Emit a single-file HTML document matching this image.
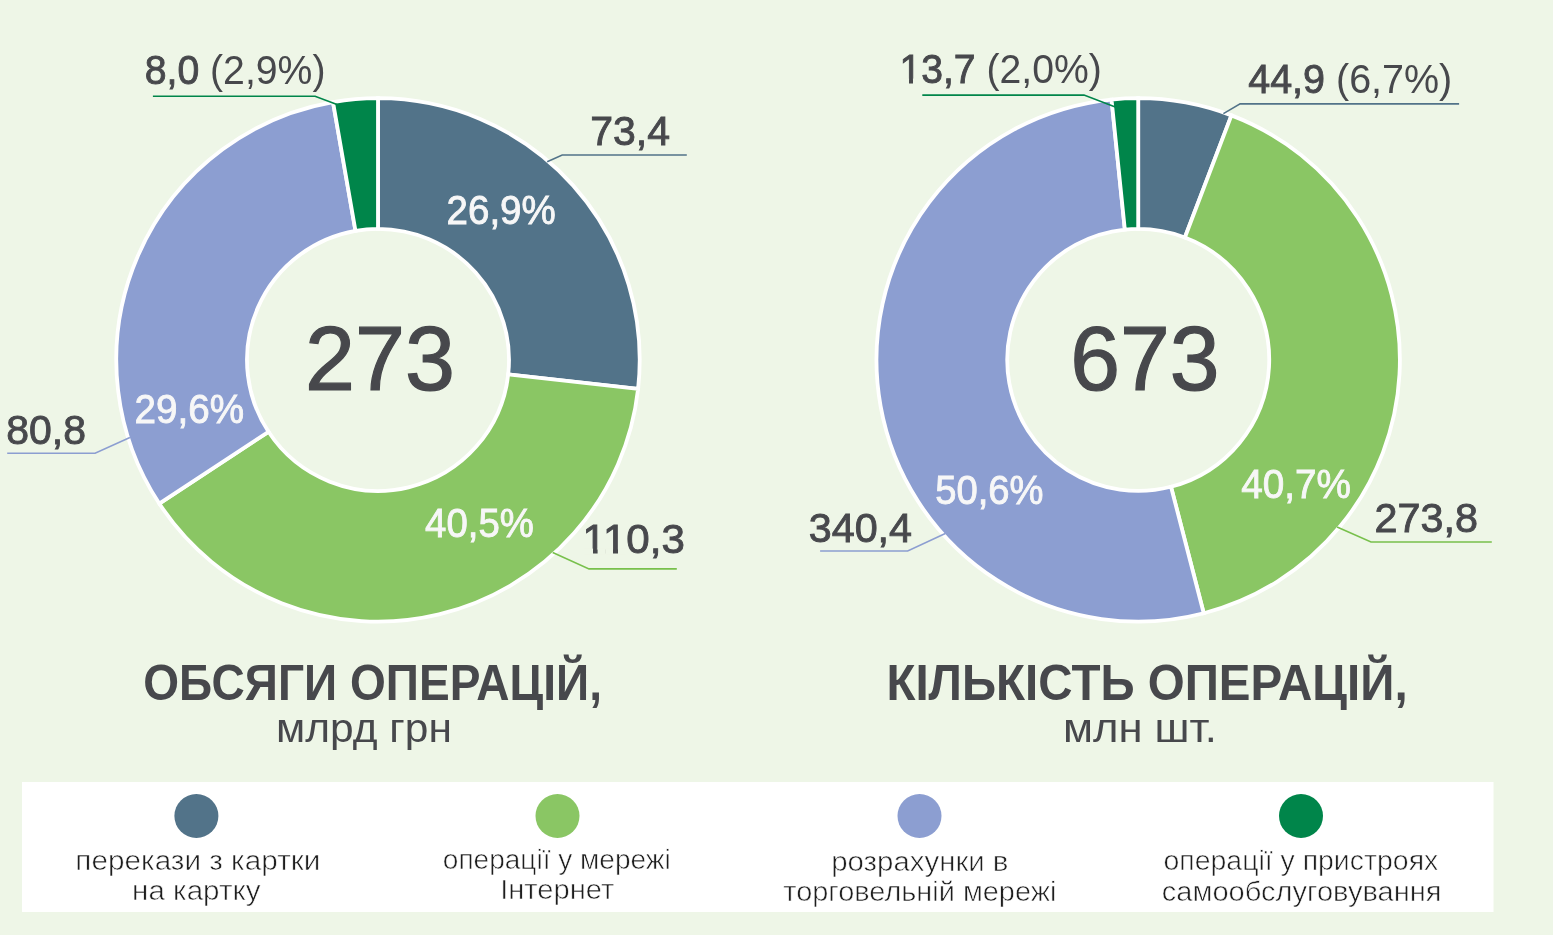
<!DOCTYPE html>
<html><head><meta charset="utf-8"><style>
html,body{margin:0;padding:0;width:1553px;height:935px;overflow:hidden;background:#EEF6E7;font-family:"Liberation Sans",sans-serif}
svg text{font-family:"Liberation Sans",sans-serif}
</style></head><body>
<svg width="1553" height="935" viewBox="0 0 1553 935" style="position:absolute;left:0;top:0;will-change:transform"><rect x="0" y="0" width="1553" height="935" fill="#EEF6E7"/><rect x="22" y="782" width="1471.5" height="130" fill="#fff"/><path d="M378.00,98.20 A261.7,261.7 0 0 1 638.09,388.84 L508.20,374.39 A131.0,131.0 0 0 0 378.00,228.90 Z" fill="#527389" stroke="#fff" stroke-width="3.8" stroke-linejoin="miter"/><path d="M638.09,388.84 A261.7,261.7 0 0 1 159.27,503.58 L268.51,431.82 A131.0,131.0 0 0 0 508.20,374.39 Z" fill="#8AC664" stroke="#fff" stroke-width="3.8" stroke-linejoin="miter"/><path d="M159.27,503.58 A261.7,261.7 0 0 1 333.01,102.10 L355.48,230.85 A131.0,131.0 0 0 0 268.51,431.82 Z" fill="#8C9ED1" stroke="#fff" stroke-width="3.8" stroke-linejoin="miter"/><path d="M333.01,102.10 A261.7,261.7 0 0 1 378.00,98.20 L378.00,228.90 A131.0,131.0 0 0 0 355.48,230.85 Z" fill="#00854A" stroke="#fff" stroke-width="3.8" stroke-linejoin="miter"/><path d="M1138.20,98.20 A261.7,261.7 0 0 1 1231.43,115.37 L1184.87,237.49 A131.0,131.0 0 0 0 1138.20,228.90 Z" fill="#527389" stroke="#fff" stroke-width="3.8" stroke-linejoin="miter"/><path d="M1231.43,115.37 A261.7,261.7 0 0 1 1203.72,613.26 L1171.00,486.73 A131.0,131.0 0 0 0 1184.87,237.49 Z" fill="#8AC664" stroke="#fff" stroke-width="3.8" stroke-linejoin="miter"/><path d="M1203.72,613.26 A261.7,261.7 0 1 1 1111.53,99.56 L1124.85,229.58 A131.0,131.0 0 1 0 1171.00,486.73 Z" fill="#8C9ED1" stroke="#fff" stroke-width="3.8" stroke-linejoin="miter"/><path d="M1111.53,99.56 A261.7,261.7 0 0 1 1138.20,98.20 L1138.20,228.90 A131.0,131.0 0 0 0 1124.85,229.58 Z" fill="#00854A" stroke="#fff" stroke-width="3.8" stroke-linejoin="miter"/><polyline points="152.9,96.3 315.1,96.3 337,104.5" fill="none" stroke="#00854A" stroke-width="1.6"/><polyline points="547.2,161.7 562.2,155 686.8,155" fill="none" stroke="#527389" stroke-width="1.6"/><polyline points="7.2,453.2 95.1,453.2 129.9,437.5" fill="none" stroke="#8C9ED1" stroke-width="1.6"/><polyline points="552.7,552.5 589,568.9000000000001 676.8,568.9000000000001" fill="none" stroke="#78C04C" stroke-width="1.6"/><polyline points="922.3,95.1 1084,95.1 1116.6,107.4" fill="none" stroke="#00854A" stroke-width="1.6"/><polyline points="1223.4,113.6 1240.1,103.9 1459.1,103.9" fill="none" stroke="#527389" stroke-width="1.6"/><polyline points="820.1,551 907.7,551 945.3,533.5" fill="none" stroke="#8C9ED1" stroke-width="1.6"/><polyline points="1337.1,526.9000000000001 1371,542.0 1491.8,542.0" fill="none" stroke="#78C04C" stroke-width="1.6"/><circle cx="196.4" cy="816" r="22" fill="#527389"/><circle cx="557.5" cy="816" r="22" fill="#8AC664"/><circle cx="919.5" cy="816" r="22" fill="#8C9ED1"/><circle cx="1301" cy="816" r="22" fill="#00854A"/><text x="144.74" y="83.70" font-family="Liberation Sans" font-size="41.39" fill="#47484C" textLength="180.74" lengthAdjust="spacingAndGlyphs" xml:space="preserve"><tspan font-weight="normal" stroke="#47484C" stroke-width="0.9" paint-order="stroke">8,0 </tspan><tspan font-weight="normal">(2,9%)</tspan></text><text x="590.15" y="144.60" font-family="Liberation Sans" font-size="41.39" font-weight="normal" fill="#47484C" stroke="#47484C" stroke-width="0.9" paint-order="stroke" textLength="79.80" lengthAdjust="spacingAndGlyphs" xml:space="preserve">73,4</text><text x="6.31" y="444.10" font-family="Liberation Sans" font-size="41.39" font-weight="normal" fill="#47484C" stroke="#47484C" stroke-width="0.9" paint-order="stroke" textLength="79.67" lengthAdjust="spacingAndGlyphs" xml:space="preserve">80,8</text><text x="582.62" y="552.50" font-family="Liberation Sans" font-size="41.39" font-weight="normal" fill="#47484C" stroke="#47484C" stroke-width="0.9" paint-order="stroke" textLength="102.26" lengthAdjust="spacingAndGlyphs" xml:space="preserve">110,3</text><text x="899.48" y="82.60" font-family="Liberation Sans" font-size="41.39" fill="#47484C" textLength="202.33" lengthAdjust="spacingAndGlyphs" xml:space="preserve"><tspan font-weight="normal" stroke="#47484C" stroke-width="0.9" paint-order="stroke">13,7 </tspan><tspan font-weight="normal">(2,0%)</tspan></text><text x="1248.21" y="93.30" font-family="Liberation Sans" font-size="41.39" fill="#47484C" textLength="204.06" lengthAdjust="spacingAndGlyphs" xml:space="preserve"><tspan font-weight="normal" stroke="#47484C" stroke-width="0.9" paint-order="stroke">44,9 </tspan><tspan font-weight="normal">(6,7%)</tspan></text><text x="808.74" y="541.60" font-family="Liberation Sans" font-size="41.39" font-weight="normal" fill="#47484C" stroke="#47484C" stroke-width="0.9" paint-order="stroke" textLength="103.33" lengthAdjust="spacingAndGlyphs" xml:space="preserve">340,4</text><text x="1374.50" y="531.50" font-family="Liberation Sans" font-size="41.39" font-weight="normal" fill="#47484C" stroke="#47484C" stroke-width="0.9" paint-order="stroke" textLength="103.39" lengthAdjust="spacingAndGlyphs" xml:space="preserve">273,8</text><text x="446.55" y="224.00" font-family="Liberation Sans" font-size="41.39" font-weight="normal" fill="#F7F7F7" stroke="#F7F7F7" stroke-width="0.9" paint-order="stroke" textLength="109.19" lengthAdjust="spacingAndGlyphs" xml:space="preserve">26,9%</text><text x="134.43" y="422.50" font-family="Liberation Sans" font-size="41.39" font-weight="normal" fill="#F7F7F7" stroke="#F7F7F7" stroke-width="0.9" paint-order="stroke" textLength="109.59" lengthAdjust="spacingAndGlyphs" xml:space="preserve">29,6%</text><text x="425.11" y="536.90" font-family="Liberation Sans" font-size="41.39" font-weight="normal" fill="#F7F7F7" stroke="#F7F7F7" stroke-width="0.9" paint-order="stroke" textLength="108.79" lengthAdjust="spacingAndGlyphs" xml:space="preserve">40,5%</text><text x="935.22" y="503.80" font-family="Liberation Sans" font-size="41.39" font-weight="normal" fill="#F7F7F7" stroke="#F7F7F7" stroke-width="0.9" paint-order="stroke" textLength="108.25" lengthAdjust="spacingAndGlyphs" xml:space="preserve">50,6%</text><text x="1241.30" y="497.50" font-family="Liberation Sans" font-size="41.39" font-weight="normal" fill="#F7F7F7" stroke="#F7F7F7" stroke-width="0.9" paint-order="stroke" textLength="109.73" lengthAdjust="spacingAndGlyphs" xml:space="preserve">40,7%</text><text x="304.98" y="390.00" font-family="Liberation Sans" font-size="90.99" font-weight="normal" fill="#47484C" stroke="#47484C" stroke-width="1.2" paint-order="stroke" textLength="149.92" lengthAdjust="spacingAndGlyphs" xml:space="preserve">273</text><text x="1070.29" y="390.00" font-family="Liberation Sans" font-size="90.99" font-weight="normal" fill="#47484C" stroke="#47484C" stroke-width="1.2" paint-order="stroke" textLength="149.28" lengthAdjust="spacingAndGlyphs" xml:space="preserve">673</text><text x="143.20" y="700.00" font-family="Liberation Sans" font-size="50.03" font-weight="bold" fill="#47484C" textLength="458.81" lengthAdjust="spacingAndGlyphs" xml:space="preserve">ОБСЯГИ ОПЕРАЦІЙ,</text><text x="886.41" y="699.80" font-family="Liberation Sans" font-size="49.60" font-weight="bold" fill="#47484C" textLength="521.22" lengthAdjust="spacingAndGlyphs" xml:space="preserve">КІЛЬКІСТЬ ОПЕРАЦІЙ,</text><text x="276.11" y="741.70" font-family="Liberation Sans" font-size="40.83" font-weight="normal" fill="#47484C" textLength="175.78" lengthAdjust="spacingAndGlyphs" xml:space="preserve">млрд грн</text><text x="1062.94" y="741.70" font-family="Liberation Sans" font-size="40.83" font-weight="normal" fill="#47484C" textLength="153.95" lengthAdjust="spacingAndGlyphs" xml:space="preserve">млн шт.</text><text x="75.39" y="870.10" font-family="Liberation Sans" font-size="28.03" font-weight="normal" fill="#1E1E1E" stroke="#fff" stroke-width="0.6" textLength="244.95" lengthAdjust="spacingAndGlyphs" xml:space="preserve">перекази з картки</text><text x="132.06" y="900.40" font-family="Liberation Sans" font-size="28.03" font-weight="normal" fill="#1E1E1E" stroke="#fff" stroke-width="0.6" textLength="128.45" lengthAdjust="spacingAndGlyphs" xml:space="preserve">на картку</text><text x="442.79" y="868.50" font-family="Liberation Sans" font-size="28.03" font-weight="normal" fill="#1E1E1E" stroke="#fff" stroke-width="0.6" textLength="228.00" lengthAdjust="spacingAndGlyphs" xml:space="preserve">операції у мережі</text><text x="500.19" y="898.80" font-family="Liberation Sans" font-size="28.03" font-weight="normal" fill="#1E1E1E" stroke="#fff" stroke-width="0.6" textLength="114.18" lengthAdjust="spacingAndGlyphs" xml:space="preserve">Інтернет</text><text x="831.16" y="870.50" font-family="Liberation Sans" font-size="28.03" font-weight="normal" fill="#1E1E1E" stroke="#fff" stroke-width="0.6" textLength="177.32" lengthAdjust="spacingAndGlyphs" xml:space="preserve">розрахунки в</text><text x="783.34" y="901.20" font-family="Liberation Sans" font-size="28.03" font-weight="normal" fill="#1E1E1E" stroke="#fff" stroke-width="0.6" textLength="273.05" lengthAdjust="spacingAndGlyphs" xml:space="preserve">торговельній мережі</text><text x="1163.47" y="870.00" font-family="Liberation Sans" font-size="28.03" font-weight="normal" fill="#1E1E1E" stroke="#fff" stroke-width="0.6" textLength="274.79" lengthAdjust="spacingAndGlyphs" xml:space="preserve">операції у пристроях</text><text x="1161.86" y="900.50" font-family="Liberation Sans" font-size="28.03" font-weight="normal" fill="#1E1E1E" stroke="#fff" stroke-width="0.6" textLength="279.55" lengthAdjust="spacingAndGlyphs" xml:space="preserve">самообслуговування</text><rect x="900.8" y="78.6" width="8.20" height="5.40" fill="#EEF6E7"/><rect x="913.0" y="78.6" width="8.00" height="5.40" fill="#EEF6E7"/><rect x="584.5" y="548.6" width="8.50" height="5.60" fill="#EEF6E7"/><rect x="597.6" y="548.6" width="8.00" height="5.60" fill="#EEF6E7"/><rect x="605.6" y="548.6" width="7.40" height="5.60" fill="#EEF6E7"/><rect x="618.0" y="548.6" width="7.50" height="5.60" fill="#EEF6E7"/></svg>
</body></html>
